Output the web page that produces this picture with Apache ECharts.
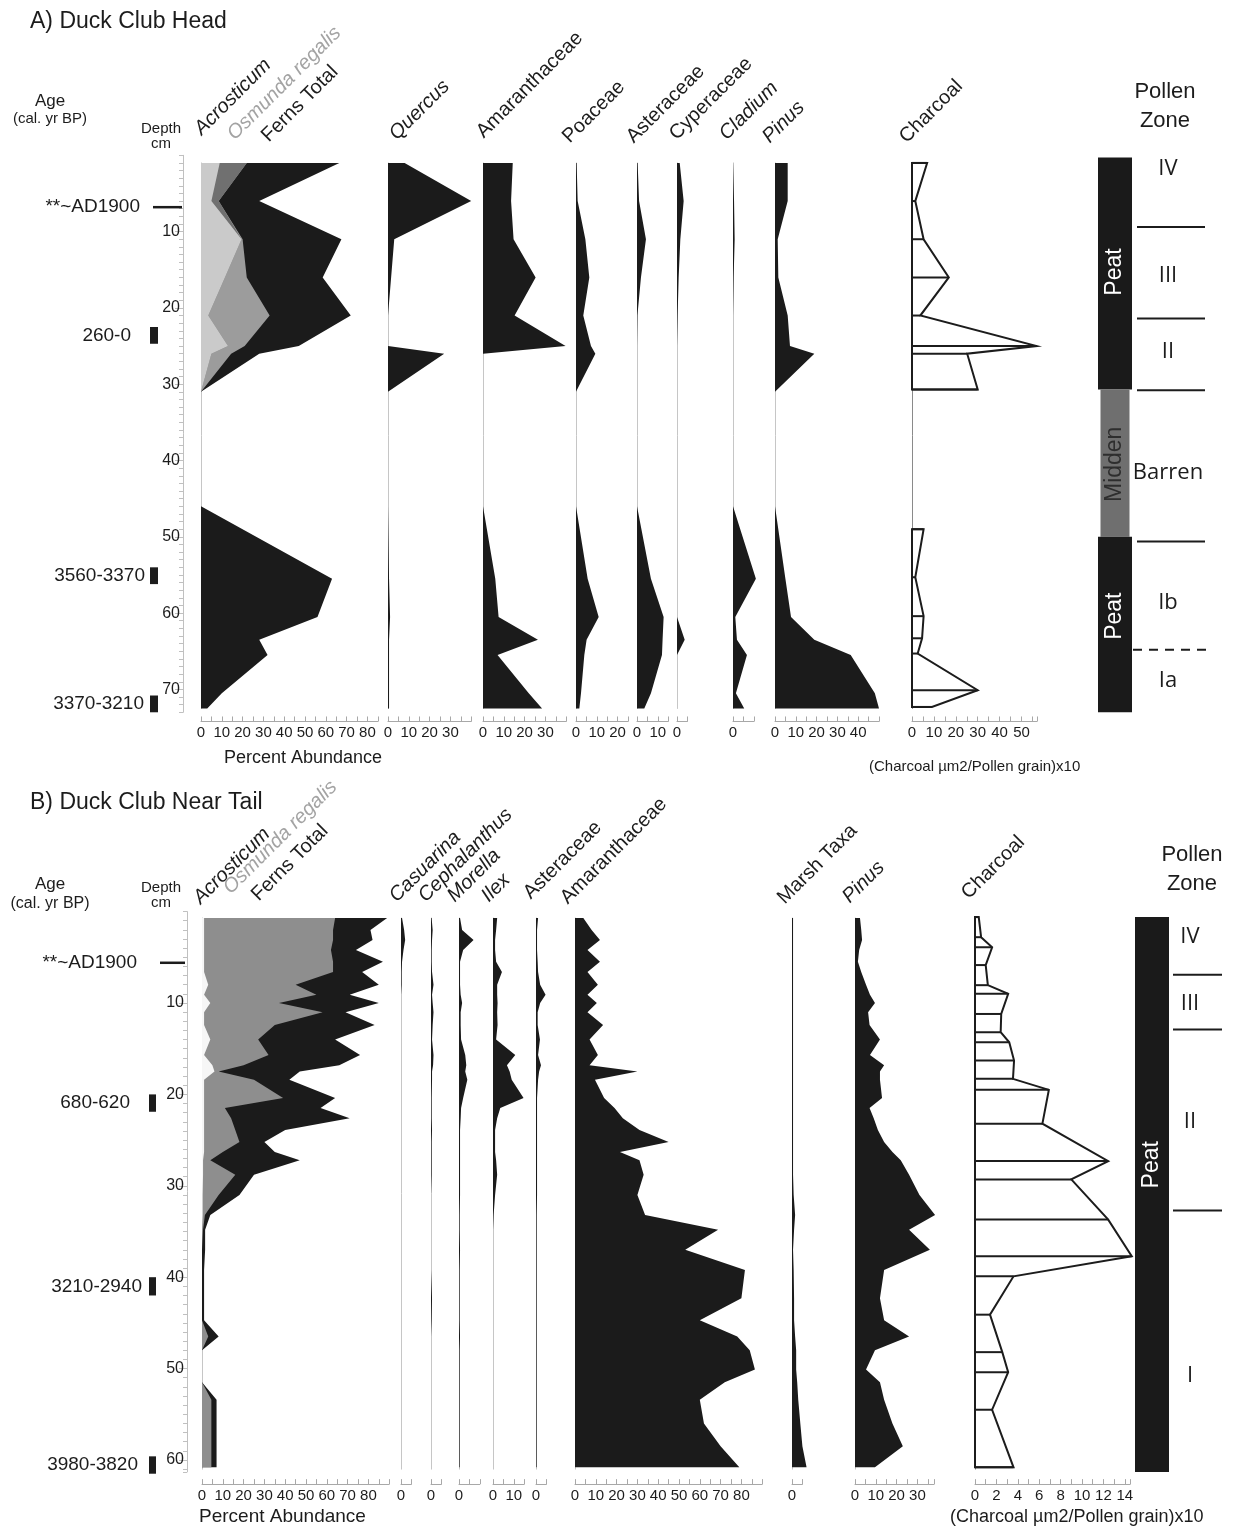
<!DOCTYPE html>
<html>
<head>
<meta charset="utf-8">
<title>Duck Club pollen diagrams</title>
<script src="https://cdn.jsdelivr.net/npm/echarts@6.0.0/dist/echarts.min.js"></script>
<style>
  html, body { margin: 0; padding: 0; background: #fff; }
  #chart { width: 1234px; height: 1528px; }
</style>
</head>
<body>
<div id="chart"></div>
<script>
// ================= A) Duck Club Head =================
// sample depths (cm); the 31-46 cm interval is pollen-barren midden
const depthA       = [1, 6, 11, 16, 21, 25, 26, 31, 46, 55.5, 60.5, 63.5, 65.5, 70.5, 72.5];
const acrosticumA  = [9, 5, 19.5, 11.5, 3.5, 13, 5, 0, 0, 0, 0, 0, 0, 0, 0];
const otherFernsA  = [13, 3.5, 0, 0, 0, 0, 0, 0, 0, 0, 0, 0, 0, 0, 0];
const osmundaA     = [0, 0, 0.5, 10.5, 29.5, 8, 9.5, 0, 0, 0, 0, 0, 0, 0, 0];
const fernsTotalA  = [66.5, 28, 67.5, 58.5, 72, 47, 28, 0, 0, 63, 56, 28, 32, 10, 3];
const quercusA     = [8, 40, 3, 1.5, 0, 0, 27, 0, 0, 0.5, 1, 0.5, 0.5, 0.5, 0.5];
const amaranthA    = [14.3, 13.5, 14.7, 25.3, 15.2, 39.7, 0, 0, 0, 5.9, 7.5, 26.4, 7, 22, 28.4];
const poaceaeA     = [0.3, 0.8, 4.5, 6.4, 3.5, 7.2, 9.3, 0, 0, 5.6, 10.9, 5.1, 4, 2.4, 1.6];
const asteraceaeA  = [0.3, 1, 4.3, 1.9, 0.2, 0, 0, 0, 0, 6.7, 12.8, 12.3, 12, 6.7, 3.5];
const cyperaceaeA  = [1.3, 3.2, 1.6, 0.8, 0.3, 0, 0, 0, 0, 0, 0, 3.7, 0, 0, 0];
const cladiumA     = [0, 0.5, 0.8, 0.3, 0, 0, 0, 0, 0, 11, 1.1, 1.9, 6.7, 1.4, 5.4];
const pinusA       = [6.1, 6.1, 1.3, 1.6, 6.1, 7.2, 18.9, 0, 0, 5, 7.7, 18.9, 36.4, 48, 50];
// charcoal (area / pollen grain x10); null splits the two sections
const charDepthA   = [1, 6, 11, 16, 21, 25, 26, 30.7, null, 49, 55.3, 60.4, 63.3, 65.3, 70.1, 72.3];
const charcoalA    = [6.9, 1.5, 5.3, 16.8, 3.8, 56.9, 25.2, 30, null, 5.3, 1.5, 5.3, 4.6, 2.6, 30, 9.1];
// radiocarbon / marker ages
const ageLabelA    = ['**~AD1900', '260-0', '3560-3370', '3370-3210'];
const ageTopA      = [6.8, 22.5, 54, 70.8];
const ageBottomA   = [6.8, 24.7, 56.2, 73];
// lithology and pollen zones
const lithNameA    = ['Peat', 'Midden', 'Peat'];
const lithTopA     = [0.3, 30.7, 50];
const lithBottomA  = [30.7, 50, 73];
const lithLabelA   = [15.3, 40.5, 60.4];
const zoneBoundA   = [9.4, 21.4, 30.8, 50.6, 64.8];
const zoneDashA    = [0, 0, 0, 0, 1];
const zoneNameA    = ['IV', 'III', 'II', 'Barren', 'Ib', 'Ia'];
const zoneDepthA   = [1.8, 15.8, 25.8, 41.6, 58.7, 68.9];
const depthTicksA  = [10, 20, 30, 40, 50, 60, 70];

// ================= B) Duck Club Near Tail =================
const depthB = [0.7, 2, 3.1, 4.2, 5.5, 6.6, 8, 9.1, 10, 11, 12.4, 14, 15.7, 16.8, 17.5, 18.4, 20.4, 21.5, 22.6, 23.9,
                25.2, 26.3, 27.2, 28.8, 31, 33.2, 34.8, 37, 39.2, 42.3, 44.7, 46.5, 48, 50.1, 51.5, 53.4, 56, 58.5, 60.8];
const acrosticumB  = [1, 1, 1, 1, 1, 1, 3, 1, 4, 1, 1, 4, 1, 5, 6, 1, 1, 1, 1, 1,
                      1, 1, 0.5, 0.5, 0.3, 0.3, 0, 0, 0, 0, 0, 0, 0, 0, 0, 0, 0, 0, 0];
const osmundaB     = [63, 62, 62, 61, 62, 62, 42, 54, 33, 57, 34, 23, 31, 15, 2, 24, 38, 10, 13, 15,
                      17, 9, 3.5, 15.5, 7.7, 1.1, 0.5, 0, 0, 0, 0, 3, 0, 0, 0, 4.5, 4.5, 4.5, 4.5];
const fernsTotalB  = [89, 81, 82, 74, 87, 77, 85, 71, 85, 69, 83, 64, 76, 66, 47, 42, 64, 57, 71, 40,
                      30, 35, 47, 25, 18, 4, 1.5, 1.5, 1, 1, 1, 8, 0, 0, 0, 7, 7, 7, 7];
const casuarinaB   = [0.5, 1.5, 2, 1.2, 0.5, 0.3, 0.3, 0, 0, 0, 0, 0, 0, 0, 0, 0, 0, 0, 0, 0,
                      0, 0, 0, 0, 0, 0, 0, 0, 0, 0, 0, 0, 0, 0, 0, 0, 0, 0, 0];
const cephalanthusB= [0.3, 0.8, 0.5, 0.3, 0.3, 0.5, 1.2, 0.5, 0.8, 1.2, 0.8, 0.5, 1.2, 1, 0.5, 0.5, 0.3, 0.3, 0.3, 0.5,
                      0.3, 0.3, 0.3, 0.3, 0, 0, 0, 0, 0, 0.5, 0.3, 0, 0, 0, 0, 0, 0, 0, 0];
const morellaB     = [0.5, 1.5, 7, 2, 0.5, 0.5, 0.5, 0.8, 1.5, 0.8, 0.8, 1, 3, 3.5, 3, 4, 2, 1, 0.8, 0.5,
                      0.5, 0.5, 0.5, 0.5, 0.5, 0.3, 0.3, 0.5, 0.3, 0.3, 0.3, 0.5, 0.3, 0.3, 0.3, 0.3, 0.3, 0.3, 0.3];
const ilexB        = [2, 1.5, 1, 1, 1.5, 4.3, 2, 2, 2.2, 2, 2.2, 1.5, 10.7, 6.7, 8, 9, 14.7, 3.5, 2, 1,
                      1, 1, 1.5, 2, 1, 0.3, 0, 0, 0, 0, 0, 0, 0, 0, 0, 0, 0, 0, 0];
const asteraceaeB  = [1, 0.5, 0.5, 0.5, 0.8, 1, 2, 4.6, 2, 0.8, 0.8, 1.9, 1, 2.4, 1.5, 1, 0.5, 0.5, 0.5, 0.5,
                      0.5, 0.5, 0.5, 0.5, 0.5, 0.3, 0.3, 0.3, 0.3, 0.3, 0.3, 0.3, 0.3, 0.3, 0.3, 0.3, 0.3, 0.3, 0.3];
const amaranthB    = [4, 8, 12, 6, 12, 6, 11, 6, 10.5, 6, 13.5, 7, 11, 7, 30, 9.6, 14, 19, 23, 31,
                      45, 21.6, 31, 33, 30, 33.7, 68.8, 53, 81.7, 80, 60, 78, 84, 86.5, 72, 60, 62, 70, 79];
const marshB       = [0.5, 0.5, 0.5, 0.5, 0.5, 0.5, 0.5, 0.5, 0.5, 0.5, 0.5, 0.5, 0.5, 0.5, 0.5, 0.5, 0.5, 0.5, 0.5, 0.5,
                      0.5, 0.5, 0.5, 0.5, 0.8, 1.5, 1, 0.5, 0.8, 1, 1, 1.5, 2, 2, 2.5, 3, 4, 5, 7];
const pinusB       = [2.4, 3, 3.4, 2, 1.4, 3, 5.3, 7.2, 9.6, 6.3, 7, 12, 7.2, 14, 12, 12, 13, 7, 9, 11,
                      14, 18, 22, 26, 31, 38.5, 26, 36, 14, 12, 14, 26, 9.6, 5.3, 12, 14, 18, 23, 9.6];
const charDepthB   = [0.6, 2.8, 3.9, 5.85, 8.05, 9, 11.2, 13.2, 14.3, 16.3, 18.3, 19.5, 23.2, 27.3, 29.3, 33.7,
                      37.7, 39.9, 44.1, 48.2, 50.4, 54.5, 60.8];
const charcoalB    = [0.35, 0.57, 1.6, 1.0, 1.2, 3.1, 2.45, 2.4, 3.2, 3.65, 3.55, 6.9, 6.3, 12.45, 9.0, 12.45,
                      14.65, 3.6, 1.4, 2.55, 3.1, 1.6, 3.6];
const ageLabelB    = ['**~AD1900', '680-620', '3210-2940', '3980-3820'];
const ageTopB      = [5.6, 20, 40, 59.6];
const ageBottomB   = [5.6, 21.9, 42, 61.5];
const lithNameB    = ['Peat'];
const lithTopB     = [0.6];
const lithBottomB  = [61.3];
const lithLabelB   = [27.7];
const zoneBoundB   = [6.9, 12.9, 32.7];
const zoneDashB    = [0, 0, 0];
const zoneNameB    = ['IV', 'III', 'II', 'I'];
const zoneDepthB   = [2.8, 10.1, 23, 50.8];
const depthTicksB  = [10, 20, 30, 40, 50, 60];

// ================= drawing =================
const FONT = '"Liberation Sans", Arial, Helvetica, sans-serif';
const INK = '#1c1c1c';
const PCT = 2.08;            // px per percent on every pollen axis

// running sums for the stacked fern curves
function stack(...parts) {
  const out = [];
  let acc = parts[0].map(() => 0);
  parts.forEach(p => { acc = acc.map((a, i) => a + p[i]); out.push(acc); });
  return out;
}
const [cumAcroA, cumOtherA, cumOsmA] = stack(acrosticumA, otherFernsA, osmundaA);
const [cumAcroB, cumOsmB] = stack(acrosticumB, osmundaB);

const option = { backgroundColor: '#fff', animation: false, grid: [], xAxis: [], yAxis: [], series: [], graphic: [] };

function addGrid(rect, xa, ya) {
  const i = option.grid.length;
  option.grid.push(Object.assign({ outerBoundsMode: 'none' }, rect));
  option.xAxis.push(Object.assign({ gridIndex: i }, xa));
  option.yAxis.push(Object.assign({ gridIndex: i }, ya));
  return i;
}

function labelFmt(every, maxLabel) {
  return v => {
    const k = v / every;
    return (Math.abs(k - Math.round(k)) < 1e-6 && v <= maxLabel + 1e-6) ? String(Math.round(v)) : '';
  };
}

// polygon from the zero line out to each sample and back; optional rungs for charcoal
function profileSeries(gi, depths, values, look) {
  return {
    type: 'custom', xAxisIndex: gi, yAxisIndex: gi, silent: true, clip: false,
    data: depths.map((d, i) => [values[i], d]),
    renderItem(params, api) {
      if (params.dataIndexInside !== 0) return null;
      const n = params.dataInsideLength;
      const children = [];
      let seg = [];
      const flush = () => {
        if (seg.length) {
          const pts = [api.coord([0, seg[0][1]])];
          seg.forEach(p => pts.push(api.coord(p)));
          pts.push(api.coord([0, seg[seg.length - 1][1]]));
          children.push({
            type: 'polygon', shape: { points: pts },
            style: look.rungs ? { fill: '#fff', stroke: INK, lineWidth: 2, lineJoin: 'miter' } : { fill: look.color }
          });
          if (look.rungs) {
            seg.forEach(p => {
              const a = api.coord([0, p[1]]), b = api.coord(p);
              children.push({ type: 'line', shape: { x1: a[0], y1: a[1], x2: b[0], y2: b[1] },
                              style: { stroke: INK, lineWidth: 2 } });
            });
          }
        }
        seg = [];
      };
      for (let i = 0; i < n; i++) {
        const v = api.value(0, i), d = api.value(1, i);
        if (isNaN(v) || isNaN(d)) flush(); else seg.push([v, d]);
      }
      flush();
      return { type: 'group', children };
    }
  };
}

function text(x, y, str, font, opts) {
  option.graphic.push(Object.assign({
    type: 'text', x, y, silent: true,
    style: Object.assign({ text: str, font, fill: INK, align: 'left', verticalAlign: 'middle' }, (opts && opts.style) || {})
  }, (opts && opts.el) || {}));
}

function buildPanel(geo, columns, ages, lith, zones, depthTicks) {
  const yOf = d => geo.y0 + geo.ppc * d;
  // taxon columns
  columns.forEach(c => {
    const gi = addGrid(
      { left: c.zero, top: yOf(geo.dMin), width: c.max * c.ppu, height: (geo.dMax - geo.dMin) * geo.ppc },
      { type: 'value', min: 0, max: c.max, interval: c.step, position: 'bottom', offset: geo.xOffset,
        axisLine: { show: true, onZero: false, lineStyle: { color: '#a8a8a8', width: 1 } },
        axisTick: { show: true, inside: true, length: 5, lineStyle: { color: '#a8a8a8' } },
        axisLabel: { show: true, margin: 4, fontSize: geo.tickFont, color: INK, fontFamily: FONT,
                     formatter: labelFmt(c.labelEvery, c.labelMax), hideOverlap: false },
        splitLine: { show: false } },
      { type: 'value', inverse: true, min: geo.dMin, max: geo.dMax,
        axisLine: { show: true, onZero: false, lineStyle: { color: c.charcoal ? '#8a8a8a' : '#c6c6c6', width: 1 } },
        axisTick: { show: false }, axisLabel: { show: false }, splitLine: { show: false } });
    if (c.charcoal) {
      option.series.push(profileSeries(gi, c.depths, c.values, { rungs: true }));
    } else {
      c.layers.forEach(([vals, color]) => option.series.push(profileSeries(gi, c.depths, vals, { color })));
    }
    c.labels.forEach(([str, italic, color, x, y]) => {
      text(x, y, str, (italic ? 'italic ' : '') + '20px ' + FONT,
           { style: { fill: color, verticalAlign: 'bottom' }, el: { rotation: Math.PI / 4 } });
    });
  });

  // depth axis: 1 cm ticks, then 10 cm ticks with labels
  const axisRect = { left: geo.axisX, top: yOf(0), width: 1, height: geo.axisMax * geo.ppc };
  const gDepth = addGrid(axisRect, { type: 'value', show: false, min: 0, max: 1 },
    { type: 'value', inverse: true, min: 0, max: geo.axisMax, interval: 1, position: 'left',
      axisLine: { show: true, lineStyle: { color: '#c0c0c0' } },
      axisTick: { show: true, length: 4, lineStyle: { color: '#c0c0c0' } },
      axisLabel: { show: false }, splitLine: { show: false } });
  addGrid(axisRect, { type: 'value', show: false, min: 0, max: 1 },
    { type: 'value', inverse: true, min: 0, max: geo.axisMax, position: 'left',
      axisLine: { show: false },
      axisTick: { show: true, length: 8, customValues: depthTicks, lineStyle: { color: '#c0c0c0' } },
      axisLabel: { show: true, customValues: depthTicks, margin: 3, fontSize: 16, color: INK, fontFamily: FONT },
      splitLine: { show: false } });

  // age markers beside the depth axis
  option.series.push({
    type: 'custom', xAxisIndex: gDepth, yAxisIndex: gDepth, silent: true, clip: false,
    data: ages.top.map((t, i) => [0, t, ages.bottom[i]]),
    renderItem(params, api) {
      const a = api.coord([0, api.value(1)]), b = api.coord([0, api.value(2)]);
      const x = a[0], i = params.dataIndex;
      const children = [];
      let right;
      if (b[1] - a[1] < 1) {
        children.push({ type: 'line', shape: { x1: x + geo.ageLine[0], y1: a[1], x2: x + geo.ageLine[1], y2: a[1] },
                        style: { stroke: INK, lineWidth: 2.5 } });
        right = x + geo.ageLine[0] - geo.ageGap[i];
      } else {
        children.push({ type: 'rect', shape: { x: x + geo.ageRect[0], y: a[1], width: geo.ageRect[1] - geo.ageRect[0], height: b[1] - a[1] },
                        style: { fill: INK } });
        right = x + geo.ageRect[0] - geo.ageGap[i];
      }
      children.push({ type: 'text', x: right, y: (a[1] + b[1]) / 2,
                      style: { text: ages.label[i], font: geo.ageFont + 'px ' + FONT, fill: INK, align: 'right', verticalAlign: 'middle' } });
      return { type: 'group', children };
    }
  });

  // lithology bar and pollen-zone boundaries
  const gZone = addGrid({ left: geo.barX, top: yOf(0), width: geo.barW, height: geo.axisMax * geo.ppc },
    { type: 'value', show: false, min: 0, max: 1 },
    { type: 'value', show: false, inverse: true, min: 0, max: geo.axisMax });
  option.series.push({
    type: 'custom', xAxisIndex: gZone, yAxisIndex: gZone, silent: true, clip: false,
    data: lith.top.map((t, i) => [0, t, lith.bottom[i], lith.labelDepth[i]]),
    renderItem(params, api) {
      const a = api.coord([0, api.value(1)]), b = api.coord([1, api.value(2)]);
      const c = api.coord([0.5, api.value(3)]);
      const name = lith.name[params.dataIndex];
      const midden = name === 'Midden';
      const inset = midden ? 2.5 : 0;
      return { type: 'group', children: [
        { type: 'rect', shape: { x: a[0] + inset, y: a[1], width: b[0] - a[0] - 2 * inset, height: b[1] - a[1] },
          style: { fill: midden ? '#6f6f6f' : '#1a1a1a' } },
        { type: 'text', x: c[0], y: c[1], rotation: Math.PI / 2,
          style: { text: name, font: '23px ' + FONT, fill: midden ? '#2e2e2e' : '#fff', align: 'center', verticalAlign: 'middle' } }
      ] };
    }
  });
  option.series.push({
    type: 'custom', xAxisIndex: gZone, yAxisIndex: gZone, silent: true, clip: false,
    data: zones.bound.map((d, i) => [1, d, zones.dash[i]]),
    renderItem(params, api) {
      const p = api.coord([1, api.value(1)]);
      const dashed = api.value(2) > 0;
      const x1 = p[0] + (dashed ? 1 : geo.zoneLine[0]), x2 = p[0] + (dashed ? geo.zoneLine[1] + 5 : geo.zoneLine[1]);
      return { type: 'line', shape: { x1, y1: p[1], x2, y2: p[1] },
               style: { stroke: INK, lineWidth: 2, lineDash: dashed ? [9, 7] : null } };
    }
  });
  option.series.push({
    type: 'custom', xAxisIndex: gZone, yAxisIndex: gZone, silent: true, clip: false,
    data: zones.depth.map(d => [1, d]),
    renderItem(params, api) {
      const p = api.coord([1, api.value(1)]);
      return { type: 'text', x: p[0] + geo.zoneText, y: p[1],
               style: { text: zones.name[params.dataIndex], font: '22px "Open Sans", ' + FONT, fill: INK, align: 'center', verticalAlign: 'middle' } };
    }
  });
}

// ---- panel A ----
const geoA = { y0: 155.3, ppc: 7.63, dMin: 1, dMax: 72.5, axisMax: 73, xOffset: 13, tickFont: 15,
               axisX: 183, ageLine: [-30, -1], ageRect: [-33, -25], ageGap: [13, 19, 5, 6], ageFont: 19,
               barX: 1098, barW: 34, zoneLine: [5, 73], zoneText: 36 };
const colsA = [
  { zero: 201, max: 85, step: 5, labelEvery: 10, labelMax: 80, ppu: PCT, depths: depthA,
    layers: [[fernsTotalA, '#1b1b1b'], [cumOsmA, '#9c9c9c'], [cumOtherA, '#707070'], [cumAcroA, '#cacaca']],
    labels: [['Acrosticum', true, INK, 205, 139], ['Osmunda regalis', true, '#a3a3a3', 238, 144], ['Ferns Total', false, INK, 272, 146]] },
  { zero: 388, max: 40, step: 5, labelEvery: 10, labelMax: 30, ppu: PCT, depths: depthA,
    layers: [[quercusA, '#1b1b1b']], labels: [['Quercus', true, INK, 400, 144]] },
  { zero: 483, max: 40, step: 5, labelEvery: 10, labelMax: 30, ppu: PCT, depths: depthA,
    layers: [[amaranthA, '#1b1b1b']], labels: [['Amaranthaceae', false, INK, 487, 142]] },
  { zero: 576, max: 25, step: 5, labelEvery: 10, labelMax: 20, ppu: PCT, depths: depthA,
    layers: [[poaceaeA, '#1b1b1b']], labels: [['Poaceae', false, INK, 573, 147]] },
  { zero: 637, max: 15, step: 5, labelEvery: 10, labelMax: 10, ppu: PCT, depths: depthA,
    layers: [[asteraceaeA, '#1b1b1b']], labels: [['Asteraceae', false, INK, 637, 147]] },
  { zero: 677, max: 5, step: 5, labelEvery: 10, labelMax: 0, ppu: PCT, depths: depthA,
    layers: [[cyperaceaeA, '#1b1b1b']], labels: [['Cyperaceae', false, INK, 680, 144]] },
  { zero: 733, max: 10, step: 5, labelEvery: 10, labelMax: 0, ppu: PCT, depths: depthA,
    layers: [[cladiumA, '#1b1b1b']], labels: [['Cladium', true, INK, 730, 144]] },
  { zero: 775, max: 50, step: 5, labelEvery: 10, labelMax: 40, ppu: PCT, depths: depthA,
    layers: [[pinusA, '#1b1b1b']], labels: [['Pinus', true, INK, 773, 147]] },
  { zero: 912, max: 57, step: 5, labelEvery: 10, labelMax: 50, ppu: 2.19, depths: charDepthA, values: charcoalA,
    charcoal: true, labels: [['Charcoal', false, INK, 910, 147]] }
];
buildPanel(geoA, colsA,
  { label: ageLabelA, top: ageTopA, bottom: ageBottomA },
  { name: lithNameA, top: lithTopA, bottom: lithBottomA, labelDepth: lithLabelA },
  { bound: zoneBoundA, dash: zoneDashA, name: zoneNameA, depth: zoneDepthA }, depthTicksA);

// ---- panel B ----
const geoB = { y0: 911.6, ppc: 9.14, dMin: 0.7, dMax: 61, axisMax: 61.3, xOffset: 15, tickFont: 15,
               axisX: 187, ageLine: [-27, -2], ageRect: [-38, -31], ageGap: [23, 19, 7, 11], ageFont: 19,
               barX: 1135, barW: 34, zoneLine: [4, 53], zoneText: 21 };
const colsB = [
  { zero: 202, max: 90, step: 5, labelEvery: 10, labelMax: 80, ppu: PCT, depths: depthB,
    layers: [[fernsTotalB, '#1b1b1b'], [cumOsmB, '#8e8e8e'], [cumAcroB, '#f6f6f6']],
    labels: [['Acrosticum', true, INK, 204, 908], ['Osmunda regalis', true, '#a3a3a3', 234, 898], ['Ferns Total', false, INK, 262, 905]] },
  { zero: 401, max: 5, step: 5, labelEvery: 10, labelMax: 0, ppu: PCT, depths: depthB,
    layers: [[casuarinaB, '#1b1b1b']], labels: [['Casuarina', true, INK, 400, 906]] },
  { zero: 431, max: 5, step: 5, labelEvery: 10, labelMax: 0, ppu: PCT, depths: depthB,
    layers: [[cephalanthusB, '#1b1b1b']], labels: [['Cephalanthus', true, INK, 429, 906]] },
  { zero: 459, max: 10, step: 5, labelEvery: 10, labelMax: 0, ppu: PCT, depths: depthB,
    layers: [[morellaB, '#1b1b1b']], labels: [['Morella', true, INK, 458, 906]] },
  { zero: 493, max: 15, step: 5, labelEvery: 10, labelMax: 10, ppu: PCT, depths: depthB,
    layers: [[ilexB, '#1b1b1b']], labels: [['Ilex', true, INK, 492, 906]] },
  { zero: 536, max: 5, step: 5, labelEvery: 10, labelMax: 0, ppu: PCT, depths: depthB,
    layers: [[asteraceaeB, '#1b1b1b']], labels: [['Asteraceae', false, INK, 534, 903]] },
  { zero: 575, max: 90, step: 5, labelEvery: 10, labelMax: 80, ppu: PCT, depths: depthB,
    layers: [[amaranthB, '#1b1b1b']], labels: [['Amaranthaceae', false, INK, 571, 908]] },
  { zero: 792, max: 5, step: 5, labelEvery: 10, labelMax: 0, ppu: PCT, depths: depthB,
    layers: [[marshB, '#1b1b1b']], labels: [['Marsh Taxa', false, INK, 788, 908]] },
  { zero: 855, max: 38, step: 5, labelEvery: 10, labelMax: 30, ppu: PCT, depths: depthB,
    layers: [[pinusB, '#1b1b1b']], labels: [['Pinus', true, INK, 853, 907]] },
  { zero: 975, max: 14.5, step: 1, labelEvery: 2, labelMax: 14, ppu: 10.7, depths: charDepthB, values: charcoalB,
    charcoal: true, labels: [['Charcoal', false, INK, 972, 903]] }
];
buildPanel(geoB, colsB,
  { label: ageLabelB, top: ageTopB, bottom: ageBottomB },
  { name: lithNameB, top: lithTopB, bottom: lithBottomB, labelDepth: lithLabelB },
  { bound: zoneBoundB, dash: zoneDashB, name: zoneNameB, depth: zoneDepthB }, depthTicksB);

// ---- headings and axis titles ----
text(30, 22, 'A) Duck Club Head', '23px ' + FONT);
text(30, 803, 'B) Duck Club Near Tail', '23px ' + FONT);
text(50, 101, 'Age', '17px ' + FONT, { style: { align: 'center' } });
text(50, 119, '(cal. yr BP)', '15px ' + FONT, { style: { align: 'center' } });
text(161, 129, 'Depth', '15px ' + FONT, { style: { align: 'center' } });
text(161, 144, 'cm', '15px ' + FONT, { style: { align: 'center' } });
text(50, 884, 'Age', '17px ' + FONT, { style: { align: 'center' } });
text(50, 904, '(cal. yr BP)', '16px ' + FONT, { style: { align: 'center' } });
text(161, 888, 'Depth', '15px ' + FONT, { style: { align: 'center' } });
text(161, 903, 'cm', '15px ' + FONT, { style: { align: 'center' } });
text(224, 758, 'Percent Abundance', '18px ' + FONT);
text(199, 1517, 'Percent Abundance', '19px ' + FONT);
text(869, 767, '(Charcoal µm2/Pollen grain)x10', '15px ' + FONT);
text(950, 1517, '(Charcoal µm2/Pollen grain)x10', '18px ' + FONT);
text(1165, 92, 'Pollen', '22px ' + FONT, { style: { align: 'center' } });
text(1165, 121, 'Zone', '22px ' + FONT, { style: { align: 'center' } });
text(1192, 855, 'Pollen', '22px ' + FONT, { style: { align: 'center' } });
text(1192, 884, 'Zone', '22px ' + FONT, { style: { align: 'center' } });

const chart = echarts.init(document.getElementById('chart'), null, { renderer: 'canvas' });
chart.setOption(option);
</script>
</body>
</html>
